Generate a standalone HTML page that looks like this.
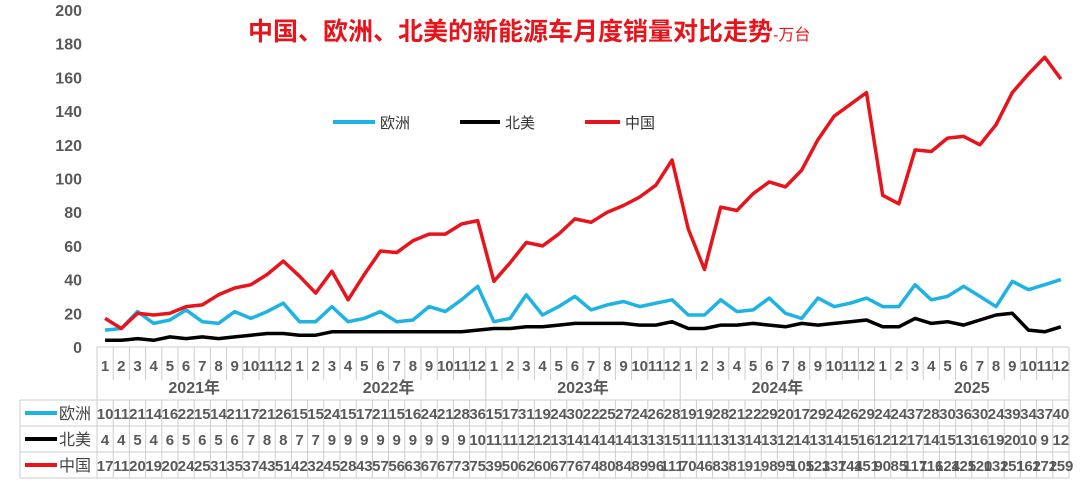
<!DOCTYPE html>
<html><head><meta charset="utf-8"><style>
html,body{margin:0;padding:0;background:#fff;width:1080px;height:485px;overflow:hidden}
text{font-family:"Liberation Sans","Noto Sans CJK SC",sans-serif}
</style></head><body>
<svg id="s" width="1080" height="485" xmlns="http://www.w3.org/2000/svg">
<rect x="0" y="0" width="1080" height="485" fill="#fff"/>
<text x="248" y="40" fill="#e8141c" font-size="25" font-weight="bold">中国、欧洲、北美的新能源车月度销量对比走势<tspan font-size="16" font-weight="normal">-万台</tspan></text>
<line x1="333" y1="122" x2="375" y2="122" stroke="#1fb3e4" stroke-width="4"/>
<text x="380" y="128" font-size="15" fill="#333">欧洲</text>
<line x1="460" y1="122" x2="500" y2="122" stroke="#000" stroke-width="4"/>
<text x="505" y="128" font-size="15" fill="#333">北美</text>
<line x1="585" y1="122" x2="620" y2="122" stroke="#e8141c" stroke-width="4"/>
<text x="625" y="128" font-size="15" fill="#333">中国</text>
<g id="g"></g>
</svg>
<script>
var eu=[10,11,21,14,16,22,15,14,21,17,21,26,15,15,24,15,17,21,15,16,24,21,28,36,15,17,31,19,24,30,22,25,27,24,26,28,19,19,28,21,22,29,20,17,29,24,26,29,24,24,37,28,30,36,30,24,39,34,37,40];
var na=[4,4,5,4,6,5,6,5,6,7,8,8,7,7,9,9,9,9,9,9,9,9,9,10,11,11,12,12,13,14,14,14,14,13,13,15,11,11,13,13,14,13,12,14,13,14,15,16,12,12,17,14,15,13,16,19,20,10,9,12];
var cn=[17,11,20,19,20,24,25,31,35,37,43,51,42,32,45,28,43,57,56,63,67,67,73,75,39,50,62,60,67,76,74,80,84,89,96,111,70,46,83,81,91,98,95,105,123,137,144,151,90,85,117,116,124,125,120,132,151,162,172,159];
var x0=97,cw=16.2,s='';
function X(i){return x0+cw*(i+.5)}function Y(v){return 347-v*1.685}
for(var v=0;v<=200;v+=20)s+='<text x="82" y="'+(Y(v)+6)+'" font-size="16" font-weight="bold" fill="#595959" text-anchor="end">'+v+'</text>';
var xe=x0+cw*60;
s+='<line x1="'+x0+'" y1="347" x2="'+xe+'" y2="347" stroke="#ccc"/>';
for(var i=0;i<=60;i++){var xx=x0+cw*i;var y2=(i%12==0)?400:380;s+='<line x1="'+xx+'" y1="347" x2="'+xx+'" y2="'+y2+'" stroke="#ccc"/>';}
for(var i=0;i<60;i++)s+='<text x="'+X(i)+'" y="371" font-size="15" font-weight="bold" fill="#595959" text-anchor="middle">'+(i%12+1)+'</text>';
var yl=['2021年','2022年','2023年','2024年','2025'];
for(var k=0;k<5;k++)s+='<text x="'+(x0+cw*(12*k+6))+'" y="393" font-size="16" font-weight="bold" fill="#595959" text-anchor="middle">'+yl[k]+'</text>';
[400,426,452,478].forEach(function(y){s+='<line x1="20" y1="'+y+'" x2="'+xe+'" y2="'+y+'" stroke="#ccc"/>'});
s+='<line x1="20" y1="400" x2="20" y2="478" stroke="#ccc"/>';
for(var i=0;i<=60;i++){var xx=x0+cw*i;s+='<line x1="'+xx+'" y1="400" x2="'+xx+'" y2="478" stroke="#ccc"/>';}
var rows=[[eu,'#1fb3e4','欧洲'],[na,'#000','北美'],[cn,'#e8141c','中国']];
rows.forEach(function(r,k){var y=413+26*k;
s+='<line x1="25" y1="'+y+'" x2="57" y2="'+y+'" stroke="'+r[1]+'" stroke-width="4"/>';
s+='<text x="59" y="'+(y+6)+'" font-size="16" fill="#444">'+r[2]+'</text>';
for(var i=0;i<60;i++)s+='<text x="'+X(i)+'" y="'+(y+6)+'" font-size="15" font-weight="bold" fill="#595959" text-anchor="middle">'+r[0][i]+'</text>';
});
rows.forEach(function(r){var p='';for(var i=0;i<60;i++)p+=(i?'L':'M')+X(i).toFixed(1)+' '+Y(r[0][i]).toFixed(1);
s+='<path d="'+p+'" fill="none" stroke="'+r[1]+'" stroke-width="3.5" stroke-linejoin="round"/>';});
document.getElementById('g').innerHTML=s;
</script>
</body></html>
